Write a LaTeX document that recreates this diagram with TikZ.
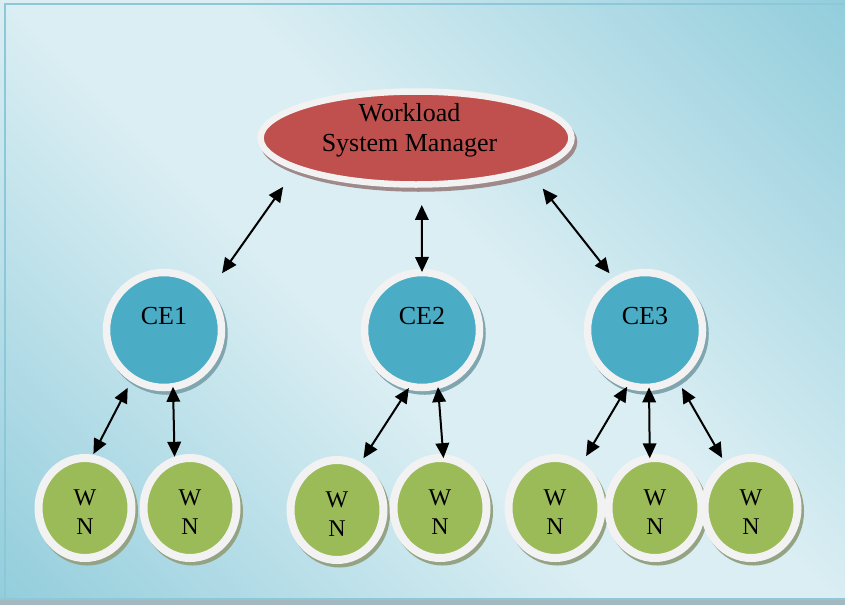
\documentclass[tikz,border=0pt]{standalone}
\usepackage{fontspec}
\setmainfont{Liberation Serif}
\usetikzlibrary{arrows.meta,shapes.geometric,shadows}

\definecolor{bgdark}{HTML}{92CDDC}
\definecolor{bglight}{HTML}{DAEEF3}
\definecolor{framecol}{HTML}{8CC8D8}
\definecolor{bandgray}{HTML}{A3B9BF}
\definecolor{rimwhite}{HTML}{F2F2F2}
\definecolor{wsmred}{HTML}{C0504D}
\definecolor{ceblue}{HTML}{4BACC6}
\definecolor{wngreen}{HTML}{9BBB59}
\definecolor{wsmshade}{HTML}{9E8A8A}
\definecolor{ceshade}{HTML}{7FA5AF}
\definecolor{wnshade}{HTML}{94A384}

% diagonal background: dark corners, light middle band
% (the path box covers the 25bp..75bp part of the shading)
\pgfdeclareverticalshading{bgdiag}{100bp}{color(0bp)=(bgdark); color(25bp)=(bgdark); color(46bp)=(bglight); color(54bp)=(bglight); color(75bp)=(bgdark); color(100bp)=(bgdark)}

\tikzset{
  rimmed/.style={draw=rimwhite, inner sep=0pt, outer sep=0pt},
  wsmshape/.style={rimmed, ellipse, fill=wsmred, line width=6.5pt,
    minimum width=311pt, minimum height=93pt,
    drop shadow={shadow xshift=2.5pt, shadow yshift=-4pt, fill=wsmshade,
      draw=wsmshade, line width=6.5pt, opacity=1}},
  ceshape/.style={rimmed, circle, fill=ceblue, line width=7.5pt,
    minimum size=115pt,
    drop shadow={shadow xshift=2.5pt, shadow yshift=-3.5pt, fill=ceshade,
      draw=ceshade, line width=7.5pt, opacity=1}},
  wnshape/.style={rimmed, ellipse, fill=wngreen, line width=8pt,
    minimum width=93pt, minimum height=100pt,
    drop shadow={shadow xshift=2.5pt, shadow yshift=-3.5pt, fill=wnshade,
      draw=wnshade, line width=8pt, opacity=1}},
  wsmlabel/.style={font=\fontsize{26}{30}\selectfont, align=center, inner sep=0pt},
  celabel/.style={font=\fontsize{26}{30}\selectfont, inner sep=0pt},
  wnlabel/.style={font=\fontsize{24}{29.5}\selectfont, align=center, inner sep=0pt},
  link/.style={{Triangle[length=15pt,width=13.5pt]}-{Triangle[length=15pt,width=13.5pt]},
    line width=2pt, black},
}

\begin{document}
\begin{tikzpicture}[x=1pt, y=-1pt]
\useasboundingbox (0,0) rectangle (845,605);
\fill[white] (0,0) rectangle (845,605);

% background panel
\begin{scope}
  \clip (0,0) rectangle (845,600);
  \begin{scope}[transform canvas={rotate around={-45:(422.5,302.5)}}]
    \shade[shading=bgdiag] (-91,-211) rectangle (936,816);
  \end{scope}
\end{scope}
\fill[bandgray] (0,600) rectangle (845,605);
\draw[framecol, line width=1.5pt] (0,599) -- (845,599);
\draw[framecol, line width=2pt] (4.5,600) -- (4.5,4) -- (845,4);

% manager
\node[wsmshape] (wsm) at (416,138) {};
\node[wsmlabel] (wsmtext) at ([shift={(-6.5pt,8pt)}]wsm.center) {Workload\\System Manager};

% computing elements
\node[ceshape] (ce1) at (164,330) {};
\node[ceshape] (ce2) at (422,330) {};
\node[ceshape] (ce3) at (645,330) {};
\node[celabel] (ce1t) at ([yshift=14pt]ce1.center) {CE1};
\node[celabel] (ce2t) at ([yshift=14pt]ce2.center) {CE2};
\node[celabel] (ce3t) at ([yshift=14pt]ce3.center) {CE3};

% worker nodes
\node[wnshape] (wn1) at (85,508) {};
\node[wnshape] (wn2) at (190,508) {};
\node[wnshape] (wn3) at (337,510) {};
\node[wnshape] (wn4) at (440,508) {};
\node[wnshape] (wn5) at (555,508) {};
\node[wnshape] (wn6) at (655,508) {};
\node[wnshape] (wn7) at (751,508) {};
\foreach \n in {1,...,7}{
  \node[wnlabel] (wn\n t) at ([yshift=-4pt]wn\n.center) {W\\N};
}

% two-way links
\draw[link, shorten <=23.3pt, shorten >=24.3pt] (wsm.194.3) -- (ce1.40.4);
\draw[link, shorten <=20.5pt, shorten >=0.5pt] (wsm.277.4) -- (ce2.90);
\draw[link, shorten <=23.4pt, shorten >=9.5pt] (wsm.344.8) -- (ce3.121.5);
\draw[link, shorten <=10.8pt, shorten >=5pt] (ce1.237.5) -- (wn1.83.4);
\draw[link, shorten >=4pt] (ce1.279) -- (wn2.108.8);
\draw[link, shorten <=2.1pt, shorten >=8.9pt] (ce2.258.2) -- (wn3.64.7);
\draw[link, shorten <=1.8pt] (ce2.286.2) -- (wn4.86.6);
\draw[link, shorten <=2pt, shorten >=11.5pt] (ce3.253.9) -- (wn5.59.4);
\draw[link] (ce3.274) -- (wn6.96.9);
\draw[link, shorten <=11.3pt, shorten >=8.75pt] (ce3.303.1) -- (wn7.120.2);
\end{tikzpicture}
\end{document}
